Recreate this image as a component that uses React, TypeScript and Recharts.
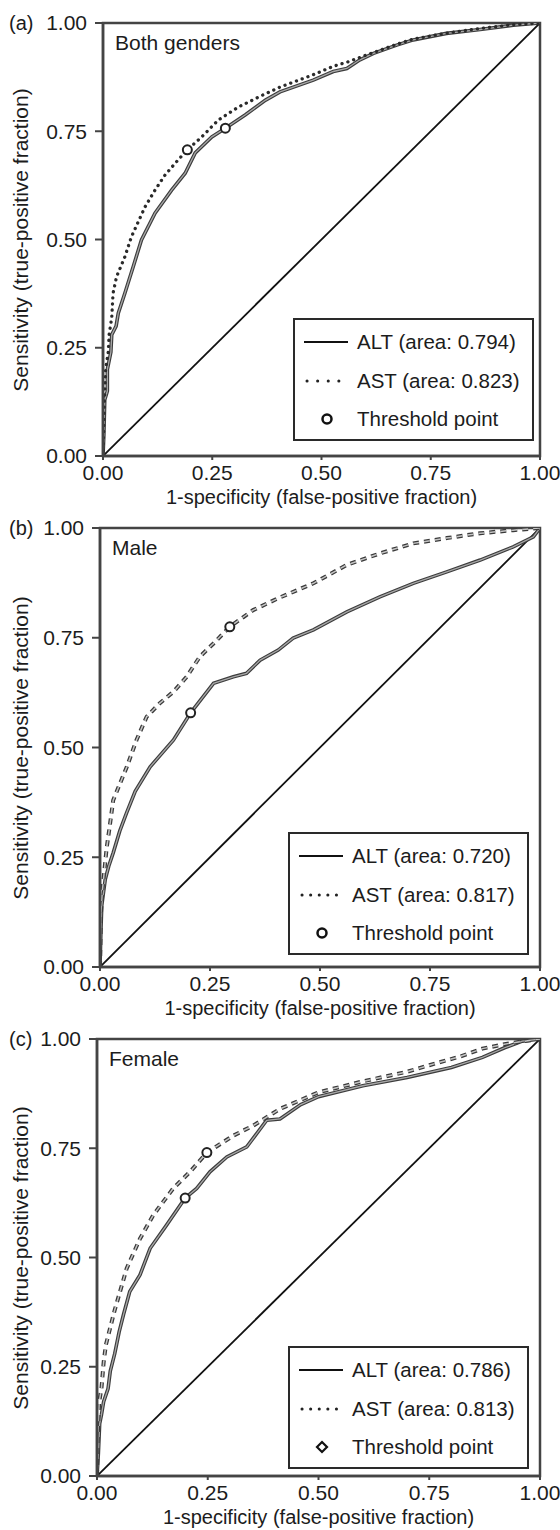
import React from "react";
import { ComposedChart, Line, Scatter, XAxis, YAxis, ReferenceArea } from "recharts";

const FONT = "'Liberation Sans', Arial, Helvetica, sans-serif";
const INK = "#1c1c1c";

const axisTicks = [0, 0.25, 0.5, 0.75, 1];
const diagonal = [{ x: 0, y: 0 }, { x: 1, y: 1 }];

// (a) both genders
const altBoth = [
  { x: 0, y: 0 }, { x: 0.002, y: 0.05 }, { x: 0.004, y: 0.13 }, { x: 0.01, y: 0.15 },
  { x: 0.01, y: 0.2 }, { x: 0.018, y: 0.24 }, { x: 0.02, y: 0.28 }, { x: 0.03, y: 0.3 },
  { x: 0.035, y: 0.33 }, { x: 0.05, y: 0.376 }, { x: 0.07, y: 0.44 }, { x: 0.088, y: 0.499 },
  { x: 0.119, y: 0.561 }, { x: 0.157, y: 0.614 }, { x: 0.188, y: 0.653 }, { x: 0.211, y: 0.7 },
  { x: 0.249, y: 0.737 }, { x: 0.28, y: 0.757 }, { x: 0.326, y: 0.788 }, { x: 0.372, y: 0.822 },
  { x: 0.405, y: 0.841 }, { x: 0.481, y: 0.868 }, { x: 0.527, y: 0.888 }, { x: 0.558, y: 0.895 },
  { x: 0.588, y: 0.915 }, { x: 0.619, y: 0.93 }, { x: 0.672, y: 0.949 }, { x: 0.71, y: 0.961 },
  { x: 0.786, y: 0.976 }, { x: 0.863, y: 0.985 }, { x: 0.939, y: 0.995 }, { x: 1, y: 1 },
];
const astBoth = [
  { x: 0, y: 0 }, { x: 0.003, y: 0.12 }, { x: 0.006, y: 0.2 }, { x: 0.012, y: 0.24 },
  { x: 0.014, y: 0.28 }, { x: 0.02, y: 0.32 }, { x: 0.023, y: 0.376 }, { x: 0.031, y: 0.414 },
  { x: 0.05, y: 0.46 }, { x: 0.065, y: 0.506 }, { x: 0.096, y: 0.575 }, { x: 0.119, y: 0.614 },
  { x: 0.142, y: 0.649 }, { x: 0.172, y: 0.684 }, { x: 0.193, y: 0.707 }, { x: 0.226, y: 0.737 },
  { x: 0.264, y: 0.776 }, { x: 0.31, y: 0.806 }, { x: 0.356, y: 0.829 }, { x: 0.405, y: 0.852 },
  { x: 0.48, y: 0.88 }, { x: 0.527, y: 0.9 }, { x: 0.56, y: 0.91 }, { x: 0.6, y: 0.925 },
  { x: 0.67, y: 0.95 }, { x: 0.71, y: 0.963 }, { x: 0.79, y: 0.977 }, { x: 0.86, y: 0.987 },
  { x: 0.94, y: 0.996 }, { x: 1, y: 1 },
];
const thrBoth = [{ x: 0.193, y: 0.707 }, { x: 0.28, y: 0.757 }];

// (b) male
const altMale = [
  { x: 0, y: 0 }, { x: 0.002, y: 0.08 }, { x: 0.004, y: 0.14 }, { x: 0.008, y: 0.17 },
  { x: 0.012, y: 0.2 }, { x: 0.02, y: 0.23 }, { x: 0.03, y: 0.26 }, { x: 0.045, y: 0.31 },
  { x: 0.06, y: 0.35 }, { x: 0.08, y: 0.4 }, { x: 0.114, y: 0.456 }, { x: 0.167, y: 0.517 },
  { x: 0.206, y: 0.579 }, { x: 0.258, y: 0.646 }, { x: 0.303, y: 0.661 }, { x: 0.333, y: 0.669 },
  { x: 0.364, y: 0.699 }, { x: 0.405, y: 0.722 }, { x: 0.439, y: 0.749 }, { x: 0.485, y: 0.768 },
  { x: 0.561, y: 0.809 }, { x: 0.636, y: 0.843 }, { x: 0.712, y: 0.874 }, { x: 0.788, y: 0.9 },
  { x: 0.864, y: 0.927 }, { x: 0.939, y: 0.957 }, { x: 0.985, y: 0.98 }, { x: 1, y: 1 },
];
const astMale = [
  { x: 0, y: 0 }, { x: 0.002, y: 0.12 }, { x: 0.005, y: 0.17 }, { x: 0.01, y: 0.22 },
  { x: 0.015, y: 0.27 }, { x: 0.022, y: 0.32 }, { x: 0.03, y: 0.38 }, { x: 0.061, y: 0.456 },
  { x: 0.083, y: 0.517 }, { x: 0.106, y: 0.57 }, { x: 0.136, y: 0.601 }, { x: 0.167, y: 0.627 },
  { x: 0.197, y: 0.661 }, { x: 0.227, y: 0.707 }, { x: 0.258, y: 0.737 }, { x: 0.295, y: 0.775 },
  { x: 0.348, y: 0.813 }, { x: 0.405, y: 0.84 }, { x: 0.485, y: 0.874 }, { x: 0.561, y: 0.916 },
  { x: 0.636, y: 0.942 }, { x: 0.712, y: 0.965 }, { x: 0.788, y: 0.977 }, { x: 0.864, y: 0.988 },
  { x: 0.939, y: 0.995 }, { x: 1, y: 1 },
];
const thrMale = [{ x: 0.295, y: 0.775 }, { x: 0.206, y: 0.579 }];

// (c) female
const altFemale = [
  { x: 0, y: 0 }, { x: 0.003, y: 0.05 }, { x: 0.006, y: 0.12 }, { x: 0.01, y: 0.14 },
  { x: 0.015, y: 0.17 }, { x: 0.025, y: 0.2 }, { x: 0.03, y: 0.24 }, { x: 0.04, y: 0.28 },
  { x: 0.05, y: 0.33 }, { x: 0.06, y: 0.37 }, { x: 0.074, y: 0.422 }, { x: 0.097, y: 0.46 },
  { x: 0.12, y: 0.521 }, { x: 0.157, y: 0.574 }, { x: 0.199, y: 0.636 }, { x: 0.225, y: 0.658 },
  { x: 0.255, y: 0.696 }, { x: 0.293, y: 0.73 }, { x: 0.338, y: 0.753 }, { x: 0.383, y: 0.814 },
  { x: 0.413, y: 0.817 }, { x: 0.46, y: 0.85 }, { x: 0.5, y: 0.868 }, { x: 0.6, y: 0.893 },
  { x: 0.7, y: 0.912 }, { x: 0.8, y: 0.935 }, { x: 0.87, y: 0.958 }, { x: 0.92, y: 0.98 },
  { x: 0.96, y: 0.995 }, { x: 1, y: 1 },
];
const astFemale = [
  { x: 0, y: 0 }, { x: 0.002, y: 0.1 }, { x: 0.005, y: 0.17 }, { x: 0.01, y: 0.2 },
  { x: 0.015, y: 0.26 }, { x: 0.02, y: 0.3 }, { x: 0.03, y: 0.34 }, { x: 0.04, y: 0.38 },
  { x: 0.052, y: 0.422 }, { x: 0.067, y: 0.475 }, { x: 0.097, y: 0.543 }, { x: 0.127, y: 0.597 },
  { x: 0.172, y: 0.658 }, { x: 0.21, y: 0.696 }, { x: 0.248, y: 0.74 }, { x: 0.308, y: 0.779 },
  { x: 0.353, y: 0.802 }, { x: 0.413, y: 0.84 }, { x: 0.5, y: 0.878 }, { x: 0.6, y: 0.903 },
  { x: 0.7, y: 0.925 }, { x: 0.75, y: 0.94 }, { x: 0.82, y: 0.96 }, { x: 0.87, y: 0.978 },
  { x: 0.93, y: 0.99 }, { x: 1, y: 1 },
];
const thrFemale = [{ x: 0.248, y: 0.74 }, { x: 0.199, y: 0.636 }];

const panelTags = ["(a)", "(b)", "(c)"];
const panelNames = ["Both genders", "Male", "Female"];
const altAreas = ["0.794", "0.720", "0.786"];
const astAreas = ["0.823", "0.817", "0.813"];

const PAD_TOP = 20;
const PAD_BOTTOM = 60;
const Y_AXIS_W = 56;
const FS = 21;

const panels = [
  { alt: altBoth, ast: astBoth, thr: thrBoth, dotted: true, diamond: false,
    plot: { top: 23, left: 103, width: 437, height: 433 }, legend: { left: 190, top: 295 } },
  { alt: altMale, ast: astMale, thr: thrMale, dotted: false, diamond: false,
    plot: { top: 528, left: 100, width: 440, height: 439 }, legend: { left: 188, top: 304 } },
  { alt: altFemale, ast: astFemale, thr: thrFemale, dotted: false, diamond: true,
    plot: { top: 1039, left: 97, width: 443, height: 437 }, legend: { left: 191, top: 307 } },
];

const fmt = (v: number) => v.toFixed(2);

const ThresholdDot = (props: any) => {
  const { cx, cy } = props;
  if (cx == null || cy == null) return null;
  return <circle cx={cx} cy={cy} r={4.5} fill="#fff" stroke="#222" strokeWidth={2} />;
};

function LegendBox({ i, left, top, dotted, diamond }: any) {
  const rows = [22, 61, 99];
  const rowStyle = (y: number): React.CSSProperties => ({
    position: "absolute", left: 0, top: y - 13, height: 26, width: "100%", lineHeight: "26px",
  });
  return (
    <div
      style={{
        position: "absolute", left, top, width: 241, height: 123, boxSizing: "border-box",
        border: "2px solid #2a2a2a", background: "#fff", fontFamily: FONT, fontSize: 20.5, color: INK,
      }}
    >
      <div style={rowStyle(rows[0])}>
        <svg width={50} height={26} style={{ position: "absolute", left: 9, top: 0 }}>
          <line x1={0} y1={13} x2={44} y2={13} stroke="#111" strokeWidth={2} />
        </svg>
        <span style={{ position: "absolute", left: 62 }}>ALT (area: {altAreas[i]})</span>
      </div>
      <div style={rowStyle(rows[1])}>
        <svg width={50} height={26} style={{ position: "absolute", left: 9, top: 0 }}>
          <line x1={3} y1={13} x2={44} y2={13} stroke="#222" strokeWidth={3}
            strokeLinecap="round" strokeDasharray={dotted ? "0.1 10.5" : "0.1 8.5"} />
        </svg>
        <span style={{ position: "absolute", left: 62 }}>AST (area: {astAreas[i]})</span>
      </div>
      <div style={rowStyle(rows[2])}>
        <svg width={50} height={26} style={{ position: "absolute", left: 9, top: 0 }}>
          {diamond ? (
            <polygon points="23,8 28,13 23,18 18,13" fill="#fff" stroke="#111" strokeWidth={2.2} />
          ) : (
            <circle cx={23} cy={13} r={4.5} fill="#fff" stroke="#111" strokeWidth={2.5} />
          )}
        </svg>
        <span style={{ position: "absolute", left: 62 }}>Threshold point</span>
      </div>
    </div>
  );
}

function Panel({ i }: { i: number }) {
  const p = panels[i];
  const { plot } = p;
  const height = PAD_TOP + plot.height + PAD_BOTTOM;
  const tickStyle = { fontSize: FS, fill: INK, fontFamily: FONT };
  return (
    <div style={{ position: "absolute", left: 0, top: plot.top - PAD_TOP, width: 560, height }}>
      <ComposedChart
        width={560}
        height={height}
        margin={{ top: PAD_TOP, left: plot.left - Y_AXIS_W, right: 560 - plot.left - plot.width, bottom: PAD_BOTTOM - 30 }}
      >
        <XAxis
          type="number"
          dataKey="x"
          domain={[0, 1]}
          ticks={axisTicks}
          tickFormatter={fmt}
          height={30}
          tick={tickStyle}
          tickSize={4}
          tickMargin={5}
          stroke="#444"
          axisLine={{ stroke: "#444", strokeWidth: 2.5 }}
          tickLine={{ stroke: "#444", strokeWidth: 2 }}
          allowDataOverflow
        />
        <YAxis
          type="number"
          dataKey="y"
          domain={[0, 1]}
          ticks={axisTicks}
          tickFormatter={fmt}
          width={Y_AXIS_W}
          tick={tickStyle}
          tickSize={8}
          tickMargin={8}
          axisLine={{ stroke: "#444", strokeWidth: 2.5 }}
          tickLine={{ stroke: "#444", strokeWidth: 2 }}
          allowDataOverflow
        />
        <Line data={diagonal} dataKey="y" stroke="#111" strokeWidth={1.8} dot={false} isAnimationActive={false} />
        {/* ALT: grey line with dark edges */}
        <Line data={p.alt} dataKey="y" stroke="#3c3c3c" strokeWidth={3.6} dot={false} isAnimationActive={false} />
        <Line data={p.alt} dataKey="y" stroke="#a8a8a8" strokeWidth={1.3} dot={false} isAnimationActive={false} />
        {/* AST: dotted in (a), hollow dashes in (b) and (c) */}
        {p.dotted ? (
          <Line data={p.ast} dataKey="y" stroke="#2a2a2a" strokeWidth={3.3} strokeLinecap="round"
            strokeDasharray="0.1 6" dot={false} isAnimationActive={false} />
        ) : (
          <Line data={p.ast} dataKey="y" stroke="#3a3a3a" strokeWidth={4}
            strokeDasharray="6 5" dot={false} isAnimationActive={false} />
        )}
        {!p.dotted && (
          <Line data={p.ast} dataKey="y" stroke="#c4c4c4" strokeWidth={1.5}
            strokeDasharray="6 5" dot={false} isAnimationActive={false} />
        )}
        <Scatter data={p.thr} dataKey="y" shape={ThresholdDot} isAnimationActive={false} />
        <ReferenceArea x1={0} x2={1} y1={0} y2={1} fill="none" stroke="#444" strokeWidth={2.5} ifOverflow="visible" />
      </ComposedChart>

      <div style={{ position: "absolute", left: 9, top: PAD_TOP - 13, fontFamily: FONT, fontSize: 20, color: INK, lineHeight: "26px" }}>
        {panelTags[i]}
      </div>
      <div style={{ position: "absolute", left: plot.left + 12, top: PAD_TOP + 7, fontFamily: FONT, fontSize: FS, color: INK, lineHeight: "26px" }}>
        {panelNames[i]}
      </div>
      <div
        style={{
          position: "absolute", left: 21, top: PAD_TOP + plot.height / 2, fontFamily: FONT, fontSize: FS,
          color: INK, whiteSpace: "nowrap", lineHeight: "24px", transform: "translate(-50%, -50%) rotate(-90deg)",
        }}
      >
        Sensitivity (true-positive fraction)
      </div>
      <div
        style={{
          position: "absolute", left: plot.left + plot.width / 2, top: PAD_TOP + plot.height + 41,
          fontFamily: FONT, fontSize: 20, color: INK, whiteSpace: "nowrap", lineHeight: "20px", transform: "translate(-50%, -50%)",
        }}
      >
        1-specificity (false-positive fraction)
      </div>
      <LegendBox i={i} left={plot.left + p.legend.left} top={PAD_TOP + p.legend.top} dotted={p.dotted} diamond={p.diamond} />
    </div>
  );
}

export default function App() {
  return (
    <div style={{ position: "absolute", left: 0, top: 0, width: 560, height: 1530, background: "#fff" }}>
      <Panel i={0} />
      <Panel i={1} />
      <Panel i={2} />
    </div>
  );
}
